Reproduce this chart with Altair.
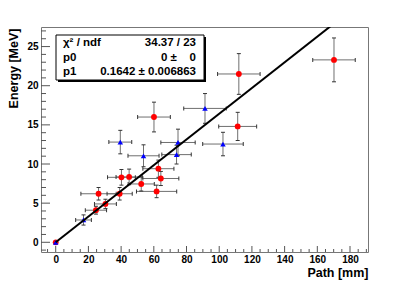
import altair as alt
import pandas as pd

# ---- data ----
red_x    = [0, 24.6, 26.2, 30.4, 39.1, 40.2, 44.9, 52.3, 62.8, 61.7, 64.3, 60.1, 111.3, 112.0, 170.2]
red_y    = [0, 4.1, 6.2, 4.9, 6.2, 8.3, 8.35, 7.45, 9.4, 6.5, 8.15, 16.0, 14.8, 21.5, 23.3]
red_xerr = [0, 6.5, 10.8, 6.7, 7.7, 8.5, 8.0, 8.0, 9.5, 12.3, 11.0, 10.0, 11.6, 13.0, 13.0]
red_yerr = [0, 0.5, 0.8, 0.6, 0.8, 1.0, 1.0, 0.9, 1.1, 0.8, 0.9, 1.9, 1.8, 2.6, 2.8]

blue_x    = [0, 17.0, 39.5, 53.7, 73.9, 74.8, 91.3, 102.3]
blue_y    = [0, 2.85, 12.8, 11.05, 11.2, 12.75, 17.1, 12.55]
blue_xerr = [0, 4.8, 7.0, 9.5, 9.0, 10.5, 13.0, 12.4]
blue_yerr = [0, 0.65, 1.5, 1.4, 1.2, 1.7, 1.9, 1.5]

fit_p0 = 0.0
fit_p1 = 0.1642
fit_x = [0, 180]

stat_names = ["χ² / ndf", "p0", "p1"]
stat_values = ["34.37 / 23", "0 ±\u00a0\u00a0\u00a0\u00a00", "0.1642 ± 0.006863"]

x_major = [0, 20, 40, 60, 80, 100, 120, 140, 160, 180]
x_minor = [-5, 5, 10, 15, 25, 30, 35, 45, 50, 55, 65, 70, 75, 85, 90, 95, 105, 110, 115,
           125, 130, 135, 145, 150, 155, 165, 170, 175, 185, 190]
y_major = [0, 5, 10, 15, 20, 25]
y_minor = [-1, 1, 2, 3, 4, 6, 7, 8, 9, 11, 12, 13, 14, 16, 17, 18, 19, 21, 22, 23, 24, 26, 27]

# ---- layout ----
W, H = 327, 225
FONT = "Liberation Sans"
BAR = "#6f6f6f"
xs = alt.Scale(domain=[-9, 191], nice=False, zero=False)
ys = alt.Scale(domain=[-1.24, 27.5], nice=False, zero=False)

AX = alt.Axis(
    values=x_major, title="Path [mm]", ticks=False, domain=False, grid=False,
    labelFont=FONT, labelFontSize=10, labelFontWeight="bold", labelColor="black",
    labelPadding=2, titleFont=FONT, titleFontSize=12.5, titleFontWeight="bold",
    titleColor="black", titleAnchor="end", titleAlign="right", titleX=W,
    titleY=24, titleBaseline="alphabetic")
AY = alt.Axis(
    values=y_major, title="Energy [MeV]", ticks=False, domain=False, grid=False,
    labelFont=FONT, labelFontSize=10, labelFontWeight="bold", labelColor="black",
    labelPadding=3, titleFont=FONT, titleFontSize=12.5, titleFontWeight="bold",
    titleColor="black", titleAngle=270, titleAlign="right", titleX=-24, titleY=1,
    titleBaseline="alphabetic")


def frame(xv, yv, xe, ye, name):
    d = pd.DataFrame({"x": xv, "y": yv, "xe": xe, "ye": ye})
    d["xlo"] = d.x - d.xe
    d["xhi"] = d.x + d.xe
    d["ylo"] = d.y - d.ye
    d["yhi"] = d.y + d.ye
    d["s"] = name
    return d


red = frame(red_x, red_y, red_xerr, red_yerr, "red")
blue = frame(blue_x, blue_y, blue_xerr, blue_yerr, "blue")
pts = pd.concat([red, blue], ignore_index=True)
errs = pts[(pts.xe > 0) | (pts.ye > 0)]

X = lambda f: alt.X(f, type="quantitative", scale=xs, axis=AX)
Y = lambda f: alt.Y(f, type="quantitative", scale=ys, axis=AY)

hbar = alt.Chart(errs).mark_rule(color=BAR, strokeWidth=1).encode(x=X("xlo"), x2="xhi", y=Y("y"))
vbar = alt.Chart(errs).mark_rule(color=BAR, strokeWidth=1).encode(x=X("x"), y=Y("ylo"), y2="yhi")
cap_xl = alt.Chart(errs).mark_tick(orient="vertical", size=4, thickness=1, color="#333", opacity=1).encode(x=X("xlo"), y=Y("y"))
cap_xh = alt.Chart(errs).mark_tick(orient="vertical", size=4, thickness=1, color="#333", opacity=1).encode(x=X("xhi"), y=Y("y"))
cap_yl = alt.Chart(errs).mark_tick(orient="horizontal", size=4, thickness=1, color="#333", opacity=1).encode(x=X("x"), y=Y("ylo"))
cap_yh = alt.Chart(errs).mark_tick(orient="horizontal", size=4, thickness=1, color="#333", opacity=1).encode(x=X("x"), y=Y("yhi"))

red_pts = alt.Chart(red).mark_point(shape="circle", filled=True, size=34, color="#ff0000", opacity=1).encode(x=X("x"), y=Y("y"))
blue_pts = alt.Chart(blue).mark_point(shape="triangle-up", filled=True, size=30, color="#0000ff", opacity=1).encode(x=X("x"), y=Y("y"))

fit_df = pd.DataFrame({"x": fit_x, "y": [fit_p0 + fit_p1 * v for v in fit_x]})
fit = alt.Chart(fit_df).mark_line(color="black", strokeWidth=2, clip=True).encode(x=X("x"), y=Y("y"))

# inside ticks
tx_major = alt.Chart(pd.DataFrame({"v": x_major})).mark_rule(color="#555").encode(
    x=X("v"), y=alt.value(H), y2=alt.value(H - 6))
tx_minor = alt.Chart(pd.DataFrame({"v": x_minor})).mark_rule(color="#555").encode(
    x=X("v"), y=alt.value(H), y2=alt.value(H - 3))
ty_major = alt.Chart(pd.DataFrame({"v": y_major})).mark_rule(color="#555").encode(
    y=Y("v"), x=alt.value(0), x2=alt.value(9))
ty_minor = alt.Chart(pd.DataFrame({"v": y_minor})).mark_rule(color="#555").encode(
    y=Y("v"), x=alt.value(0), x2=alt.value(5))

# stats box
one = pd.DataFrame({"a": [0]})
BX0, BX1, BY0, BY1 = 15, 163, 8, 53
shadow = alt.Chart(one).mark_rect(color="black").encode(
    x=alt.value(BX0 + 2), x2=alt.value(BX1 + 2), y=alt.value(BY0 + 2), y2=alt.value(BY1 + 2))
box = alt.Chart(one).mark_rect(fill="white", stroke="black", strokeWidth=1).encode(
    x=alt.value(BX0), x2=alt.value(BX1), y=alt.value(BY0), y2=alt.value(BY1))
stat_layers = []
row_y = [16, 30.5, 45]
for i, (n, v) in enumerate(zip(stat_names, stat_values)):
    stat_layers.append(alt.Chart(one).mark_text(
        font=FONT, fontSize=11.5, fontWeight="bold", align="left", baseline="middle", color="black"
    ).encode(x=alt.value(22), y=alt.value(row_y[i]), text=alt.value(n)))
    stat_layers.append(alt.Chart(one).mark_text(
        font=FONT, fontSize=11.5, fontWeight="bold", align="right", baseline="middle", color="black"
    ).encode(x=alt.value(155), y=alt.value(row_y[i]), text=alt.value(v)))

chart = alt.layer(
    hbar, vbar, cap_xl, cap_xh, cap_yl, cap_yh, red_pts, blue_pts, fit,
    tx_major, tx_minor, ty_major, ty_minor, shadow, box, *stat_layers
).properties(
    width=W, height=H,
    autosize=alt.AutoSizeParams(type="none"),
    padding={"left": 33, "top": 19, "right": 12, "bottom": 28},
    background="white",
).configure_view(stroke="#777", strokeWidth=1)

chart.save("out.html", embed_options={"renderer": "svg", "actions": False})
